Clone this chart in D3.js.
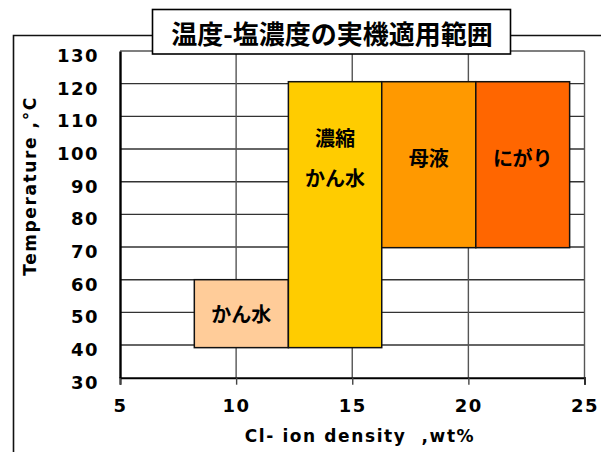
<!DOCTYPE html>
<html>
<head>
<meta charset="utf-8">
<script src="https://cdn.jsdelivr.net/npm/d3@7"></script>
<style>
  html, body { margin: 0; padding: 0; background: #fff; }
  svg { display: block; }
  .num { font-family: "DejaVu Sans", sans-serif; font-weight: bold; }
  .jp { font-family: "Noto Sans CJK JP", sans-serif; font-weight: bold; }
</style>
</head>
<body>
<svg id="chart" width="601" height="452"></svg>
<script>
// Application ranges: Cl- concentration (wt%) vs temperature (°C)
const categories = ["かん水", "濃縮かん水", "母液", "にがり"];
const labelLines = [["かん水"], ["濃縮", "かん水"], ["母液"], ["にがり"]];
const densityFrom = [8.2, 12.25, 16.27, 20.32];
const densityTo   = [12.25, 16.27, 20.32, 24.36];
const tempLow     = [39.2, 39.2, 69.8, 69.8];
const tempHigh    = [60, 120.6, 120.6, 120.6];
const fills       = ["#FFCC99", "#FFCC00", "#FF9900", "#FF6600"];
const xTicks = [5, 10, 15, 20, 25];
const yTicks = [30, 40, 50, 60, 70, 80, 90, 100, 110, 120, 130];
const title = "温度-塩濃度の実機適用範囲";
const xTitle = "Cl- ion density  ,wt%";
const yTitle = "Temperature ,°C";

const svg = d3.select("#chart");
const plot = { left: 120, right: 584.5, top: 51, bottom: 377.7 };

const x = d3.scaleLinear().domain([5, 25]).range([plot.left, plot.right]);
const y = d3.scaleLinear().domain([30, 130]).range([plot.bottom, plot.top]);

// outer frame (runs off the right and bottom edges)
svg.append("path")
  .attr("d", `M13.5,460 L13.5,35.5 L610,35.5`)
  .attr("fill", "none").attr("stroke", "#111").attr("stroke-width", 1.6);

// grid
const grid = svg.append("g");
grid.selectAll("line.h").data(yTicks.filter(v => v > 30)).join("line")
  .attr("x1", plot.left).attr("x2", plot.right)
  .attr("y1", d => y(d)).attr("y2", d => y(d))
  .attr("stroke", d => d === 130 ? "#555" : "#333").attr("stroke-width", 1.4);
grid.selectAll("line.v").data(xTicks.filter(v => v > 5)).join("line")
  .attr("y1", plot.top).attr("y2", plot.bottom)
  .attr("x1", d => x(d)).attr("x2", d => x(d))
  .attr("stroke", "#555").attr("stroke-width", 1.4);

// axes
const xAxis = svg.append("g").attr("transform", `translate(0,${plot.bottom})`)
  .call(d3.axisBottom(x).tickValues(xTicks).tickSize(7).tickPadding(15));
xAxis.select(".domain").attr("stroke", "#000").attr("stroke-width", 2);
xAxis.selectAll(".tick line").attr("stroke", "#444").attr("stroke-width", 1.4);
xAxis.selectAll(".tick text").attr("class", "num").attr("font-size", 18)
  .attr("letter-spacing", 1.5).attr("fill", "#000");

const yAxis = svg.append("g").attr("transform", `translate(${plot.left},0)`)
  .call(d3.axisLeft(y).tickValues(yTicks).tickSize(0).tickPadding(21));
yAxis.select(".domain").attr("stroke", "#000").attr("stroke-width", 2.4);
yAxis.selectAll(".tick text").attr("class", "num").attr("font-size", 18)
  .attr("letter-spacing", 1.5).attr("fill", "#000").attr("dy", "0.58em");

// range boxes
const rows = categories.map((c, i) => ({
  name: c, lines: labelLines[i], x0: densityFrom[i], x1: densityTo[i],
  t0: tempLow[i], t1: tempHigh[i], fill: fills[i]
}));

svg.append("g").selectAll("rect").data(rows).join("rect")
  .attr("x", d => x(d.x0)).attr("y", d => y(d.t1))
  .attr("width", d => x(d.x1) - x(d.x0))
  .attr("height", d => y(d.t0) - y(d.t1))
  .attr("fill", d => d.fill).attr("stroke", "#111").attr("stroke-width", 1.5);

// box labels: centred horizontally, in the upper band of tall boxes
const lab = svg.append("g").attr("class", "jp").attr("font-size", 20)
  .attr("text-anchor", "middle").attr("fill", "#000");
rows.forEach(d => {
  const cx = (x(d.x0) + x(d.x1)) / 2;
  const bandLow = d.t1 > 100 ? 70 : d.t0;
  const cy = (y(bandLow) + y(d.t1)) / 2 + (d.t1 > 100 ? -7 : 0);
  const gap = 40;
  d.lines.forEach((ln, j) => {
    lab.append("text")
      .attr("x", cx)
      .attr("y", cy + (j - (d.lines.length - 1) / 2) * gap)
      .attr("dominant-baseline", "central")
      .text(ln);
  });
});

// title box
const tb = svg.append("g");
tb.append("rect").attr("x", 152.5).attr("y", 9.5).attr("width", 358).attr("height", 44.5)
  .attr("fill", "#fff").attr("stroke", "#000").attr("stroke-width", 1.6);
tb.append("text").attr("class", "jp").attr("x", 332).attr("y", 32)
  .attr("text-anchor", "middle").attr("dominant-baseline", "central")
  .attr("font-size", 26).attr("fill", "#000").text(title);

// axis titles
svg.append("text").attr("class", "num").attr("x", 360).attr("y", 436)
  .attr("text-anchor", "middle").attr("dominant-baseline", "central")
  .attr("font-size", 17).attr("letter-spacing", 1.6).attr("fill", "#000")
  .style("white-space", "pre")
  .text(xTitle);
svg.append("text").attr("class", "num")
  .attr("transform", "translate(30,186) rotate(-90)")
  .attr("text-anchor", "middle").attr("dominant-baseline", "central")
  .attr("font-size", 17).attr("letter-spacing", 1.6).attr("fill", "#000")
  .style("white-space", "pre")
  .text(yTitle);
</script>
</body>
</html>
